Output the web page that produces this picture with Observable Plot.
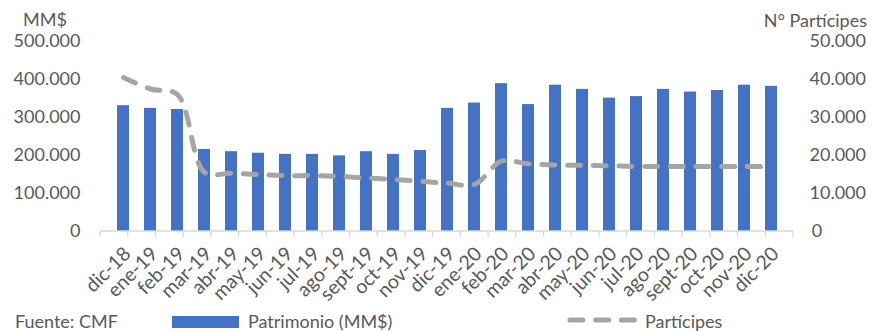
<!DOCTYPE html>
<html>
<head>
<meta charset="utf-8">
<script src="https://cdn.jsdelivr.net/npm/d3@7"></script>
<script src="https://cdn.jsdelivr.net/npm/@observablehq/plot@0.6"></script>
<style>
  html, body { margin: 0; padding: 0; background: #fff; }
  #wrap { position: relative; width: 872px; height: 331px; font-family: Lato, "Open Sans", sans-serif; color: #595959; overflow: hidden; }
  .lbl { position: absolute; font-size: 18px; line-height: 20px; white-space: nowrap; color: #595959; }
</style>
</head>
<body>
<div id="wrap">
  <div id="chart"></div>
  <div class="lbl" style="left:23px; top:9px;">MM$</div>
  <div class="lbl" style="right:5px; top:10px;">N° Partícipes</div>
  <div class="lbl" style="left:15px; top:311px;">Fuente: CMF</div>
  <div style="position:absolute; left:172px; top:316px; width:67px; height:12px; background:#4472C4;"></div>
  <div class="lbl" style="left:248px; top:311px;">Patrimonio (MM$)</div>
  <svg style="position:absolute; left:565px; top:312px;" width="76" height="16">
    <line x1="5" x2="71" y1="8" y2="8" stroke="#A5A5A5" stroke-width="5" stroke-linecap="round" stroke-dasharray="13,12.7"></line>
  </svg>
  <div class="lbl" style="left:645px; top:311px;">Partícipes</div>
</div>
<script>
const months = ["dic-18","ene-19","feb-19","mar-19","abr-19","may-19","jun-19","jul-19","ago-19","sept-19","oct-19","nov-19","dic-19","ene-20","feb-20","mar-20","abr-20","may-20","jun-20","jul-20","ago-20","sept-20","oct-20","nov-20","dic-20"];
const patrimonio = [331000,324000,321000,216000,210000,206000,203000,203000,199000,210000,203000,213000,324000,338000,389000,334000,385000,374000,351000,355000,374000,367000,371000,385000,382000];
const participes = [40500,37500,36000,15600,15300,15000,14700,14700,14500,14100,13700,13200,12700,12400,18500,17800,17500,17400,17300,17100,17100,17100,17100,17100,17100];
const leftTicks = [0,100000,200000,300000,400000,500000];
const rightTicks = [0,10000,20000,30000,40000,50000];

const loc = d3.formatLocale({decimal: ",", thousands: ".", grouping: [3], currency: ["$", ""]});
const fmt = loc.format(",.0f");
const ratio = leftTicks[leftTicks.length - 1] / rightTicks[rightTicks.length - 1];

const data = months.map((m, i) => ({m, p: patrimonio[i], n: participes[i]}));

function categoryAxis(index, scales, values, dimensions) {
  const {width, height, marginLeft, marginRight, marginBottom} = dimensions;
  const x0 = marginLeft, x1 = width - marginRight, yb = height - marginBottom;
  const n = months.length, step = (x1 - x0) / n;
  const g = d3.create("svg:g").attr("stroke", "#D9D9D9").attr("stroke-width", 1.3).attr("fill", "none");
  g.append("line").attr("x1", x0).attr("x2", x1).attr("y1", yb).attr("y2", yb);
  for (let i = 0; i <= n; i++) {
    g.append("line").attr("x1", x0 + i * step).attr("x2", x0 + i * step).attr("y1", yb).attr("y2", yb + 6);
  }
  return g.node();
}

const chart = Plot.plot({
  width: 872,
  height: 305,
  marginLeft: 100,
  marginRight: 79,
  marginTop: 41,
  marginBottom: 74,
  style: {fontFamily: "Lato, 'Open Sans', sans-serif", fontSize: "18px", color: "#595959", background: "white", overflow: "visible"},
  x: {domain: months, paddingInner: 0.57, paddingOuter: 0.285, axis: null},
  y: {domain: [0, 500000], axis: null},
  marks: [
    Plot.barY(data, {x: "m", y: "p", fill: "#4472C4"}),
    categoryAxis,
    Plot.axisY(leftTicks, {anchor: "left", tickSize: 0, tickPadding: 20, tickFormat: fmt, label: null, fill: "#595959", fontSize: 18}),
    Plot.axisY(rightTicks.map(v => v * ratio), {anchor: "right", tickSize: 0, tickPadding: 16, tickFormat: d => (d === 0 ? "\u2009" : "") + fmt(d / ratio), textAnchor: "start", label: null, fill: "#595959", fontSize: 18}),
    Plot.axisX(months, {tickSize: 0, tickRotate: -45, tickPadding: 19, dx: 4, label: null, fill: "#595959", fontSize: 19.5}),
    Plot.line(data, {x: "m", y: d => d.n * ratio, stroke: "#A5A5A5", strokeWidth: 5, strokeDasharray: "13,12.7", strokeLinecap: "round", curve: "catmull-rom"})
  ]
});
document.getElementById("chart").appendChild(chart);
</script>
</body>
</html>
